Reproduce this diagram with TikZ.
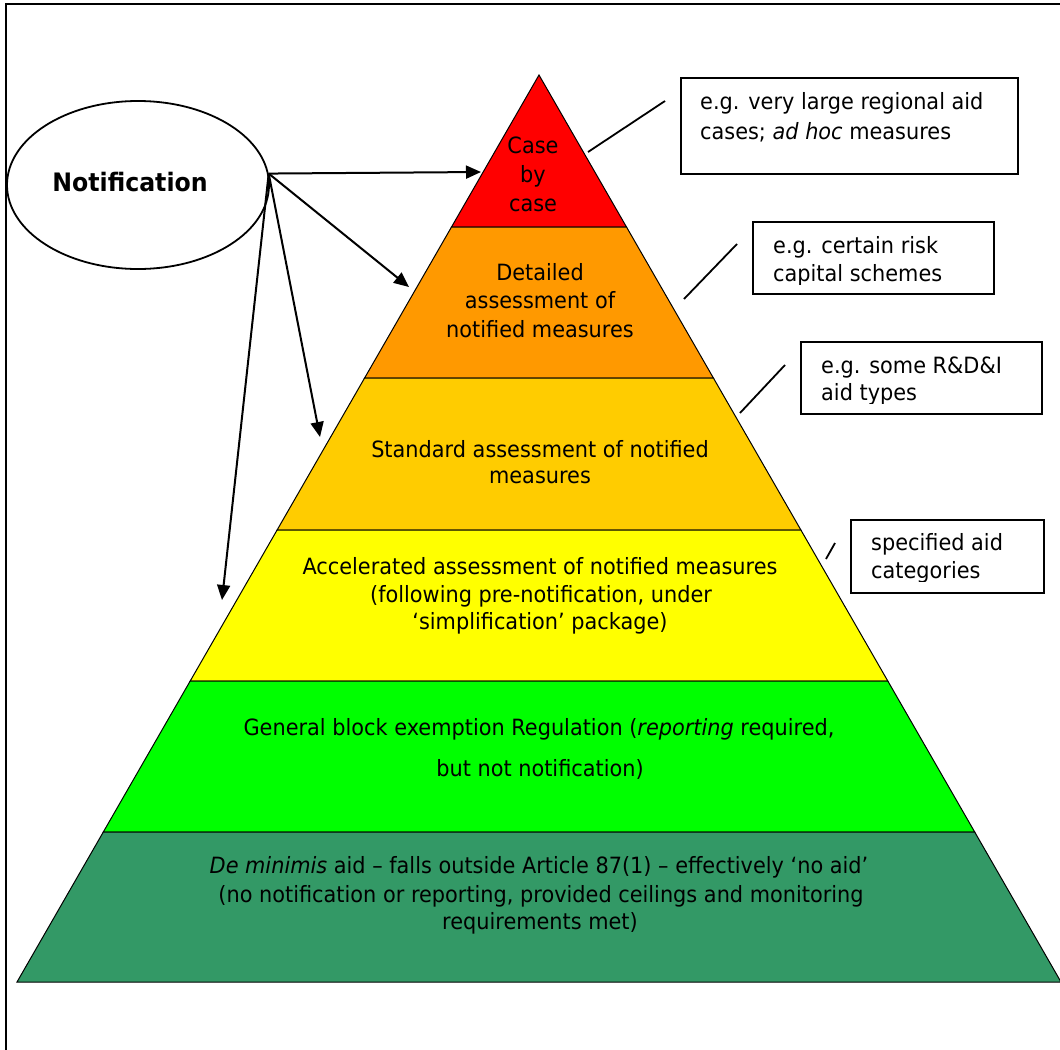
\documentclass[tikz,border=0pt]{standalone}
\usepackage{fontspec}
\setmainfont{DejaVu Sans}[FakeStretch=0.93]
\usetikzlibrary{arrows.meta,shapes.geometric}
\newcommand\bodyfnt{\fontsize{22.5}{27}\selectfont}
\newcommand\notiffnt{\fontsize{25.5}{30}\selectfont\bfseries}
\definecolor{lvlRed}{HTML}{FF0000}
\definecolor{lvlOrange}{HTML}{FF9900}
\definecolor{lvlGold}{HTML}{FFCC00}
\definecolor{lvlYellow}{HTML}{FFFF00}
\definecolor{lvlGreen}{HTML}{00FF00}
\definecolor{lvlDark}{HTML}{339966}
\tikzset{
  lbl/.style={anchor=base, inner sep=0pt, font=\bodyfnt},
  lblw/.style={anchor=base west, inner sep=0pt, font=\bodyfnt},
  layer/.style={draw=black, line width=1bp},
  arr/.style={line width=2bp, -{Triangle[length=15bp,width=13bp]}},
  callout/.style={draw, line width=1.8bp, fill=white, anchor=north west, inner sep=0pt},
  leader/.style={line width=1.8bp},
  frameline/.style={line width=2bp}
}
\begin{document}
\begin{tikzpicture}[x=1bp,y=-1bp]
\useasboundingbox (0,0) rectangle (1060,1050);
\fill[white] (0,0) rectangle (1060,1050);
% frame
\coordinate (fb) at (6,1052);
\coordinate (fc) at (6,4);
\coordinate (fr) at (1062,4);
\draw[frameline] (fb) -- (fc) -- (fr);
% pyramid coordinates
\coordinate (apex) at (539,75);
\coordinate (l1) at (451.5,227); \coordinate (r1) at (626.5,227);
\coordinate (l2) at (364.6,378); \coordinate (r2) at (713.4,378);
\coordinate (l3) at (277.1,530); \coordinate (r3) at (800.9,530);
\coordinate (l4) at (190.2,681); \coordinate (r4) at (887.8,681);
\coordinate (l5) at (103.3,832); \coordinate (r5) at (974.7,832);
\coordinate (l6) at (17,982);    \coordinate (r6) at (1061,982);
\filldraw[layer, fill=lvlRed] (apex) -- (r1) -- (l1) -- cycle;
\filldraw[layer, fill=lvlOrange] (l1) -- (r1) -- (r2) -- (l2) -- cycle;
\filldraw[layer, fill=lvlGold] (l2) -- (r2) -- (r3) -- (l3) -- cycle;
\filldraw[layer, fill=lvlYellow] (l3) -- (r3) -- (r4) -- (l4) -- cycle;
\filldraw[layer, fill=lvlGreen] (l4) -- (r4) -- (r5) -- (l5) -- cycle;
\filldraw[layer, fill=lvlDark] (l5) -- (r5) -- (r6) -- (l6) -- cycle;
% pyramid texts
\node[lbl] (ta1) at (533,153) {Case};
\node[lbl] (ta2) at (533,182) {by};
\node[lbl] (ta3) at (533,211) {case};
\node[lbl] (tb1) at (540,280) {Detailed};
\node[lbl] (tb2) at (540,308) {assessment of};
\node[lbl] (tb3) at (540,337) {notified measures};
\node[lbl] (tc1) at (540,457) {Standard assessment of notified};
\node[lbl] (tc2) at (540,483) {measures};
\node[lbl] (td1) at (540,574) {Accelerated assessment of notified measures};
\node[lbl] (td2) at (541,602) {(following pre-notification, under};
\node[lbl] (td3) at (540,629) {‘simplification’ package)};
\node[lbl] (te1) at (539,735) {General block exemption Regulation (\textit{reporting} required,};
\node[lbl] (te2) at (540,776) {but not notification)};
\node[lbl] (tf1) at (539,873) {\textit{De minimis} aid – falls outside Article 87(1) – effectively ‘no aid’};
\node[lbl] (tf2) at (541,902) {(no notification or reporting, provided ceilings and monitoring};
\node[lbl] (tf3) at (540,929) {requirements met)};
% notification ellipse
\node[ellipse, draw, line width=1.8bp, minimum width=262bp, minimum height=168bp, inner sep=0pt] (notif) at (138,185) {};
\node[anchor=base, inner sep=0pt, font=\notiffnt] (notiftxt) at (130,191) {Notification};
% arrows
\coordinate (t1) at (481,172);
\coordinate (t2) at (409,287);
\coordinate (t3) at (320,437);
\coordinate (t4) at (222,600);
\draw[arr] (notif.5) -- (t1);
\draw[arr] (notif.5) -- (t2);
\draw[arr] (notif.5) -- (t3);
\draw[arr] (notif.5) -- (t4);
% callouts
\node[callout, minimum width=337bp, minimum height=96bp] (c1) at (680,77) {};
\node[callout, minimum width=241bp, minimum height=72bp] (c2) at (752,221) {};
\node[callout, minimum width=241bp, minimum height=72bp] (c3) at (800,341) {};
\node[callout, minimum width=193bp, minimum height=73bp] (c4) at (850,519) {};
\node[lblw] (c1a) at (700,109) {e.g. very large regional aid};
\node[lblw] (c1b) at (700,139) {cases; \textit{ad hoc} measures};
\begin{scope}
\clip (752,221) rectangle (993,284);
\node[lblw] (c2a) at (773,253) {e.g. certain risk};
\node[lblw] (c2b) at (773,281) {capital schemes};
\end{scope}
\begin{scope}
\clip (800,341) rectangle (1041,403);
\node[lblw] (c3a) at (821,373) {e.g. some R\&D\&I};
\node[lblw] (c3b) at (821,400) {aid types};
\end{scope}
\begin{scope}
\clip (850,519) rectangle (1043,581);
\node[lblw] (c4a) at (871,550) {specified aid};
\node[lblw] (c4b) at (871,578) {categories};
\end{scope}
% leader lines
\coordinate (k1a) at (588,152); \coordinate (k1b) at (665,101);
\coordinate (k2a) at (684,299); \coordinate (k2b) at (737,244);
\coordinate (k3a) at (740,413); \coordinate (k3b) at (785,365);
\coordinate (k4a) at (826,559); \coordinate (k4b) at (835,543);
\draw[leader] (k1a) -- (k1b);
\draw[leader] (k2a) -- (k2b);
\draw[leader] (k3a) -- (k3b);
\draw[leader] (k4a) -- (k4b);
\end{tikzpicture}
\end{document}
